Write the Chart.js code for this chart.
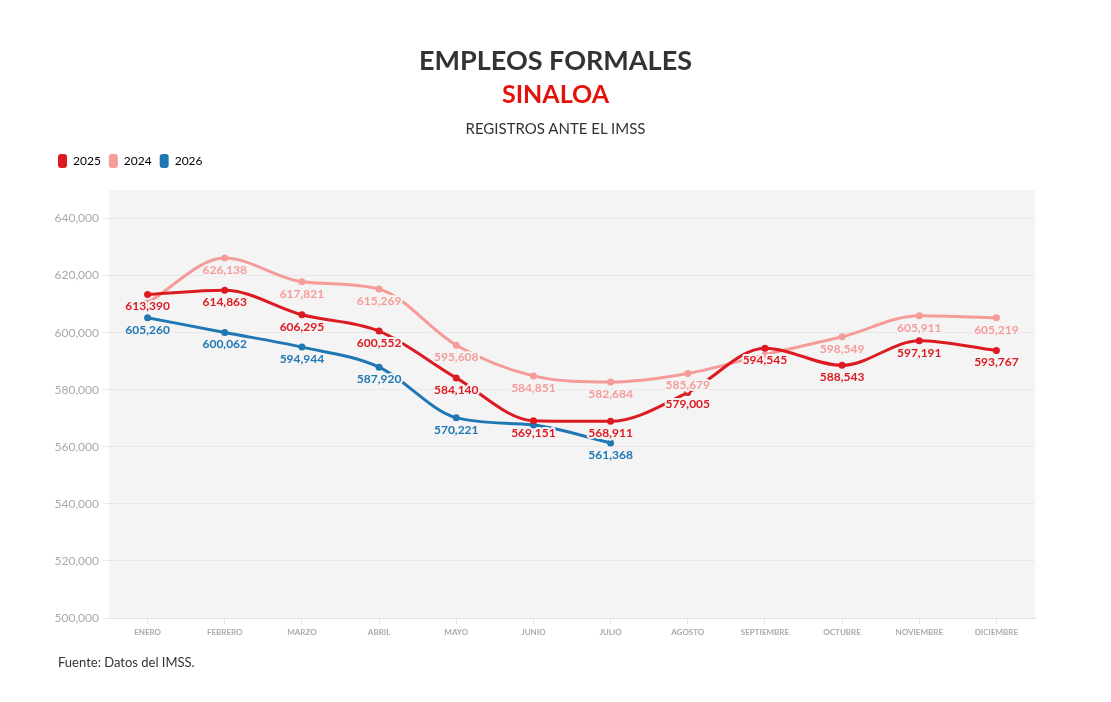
<!DOCTYPE html>
<html>
<head>
<meta charset="utf-8">
<script src="https://cdn.jsdelivr.net/npm/chart.js@4.4.1/dist/chart.umd.min.js"></script>
<style>
  html, body { margin: 0; padding: 0; background: #fff; }
  body { width: 1111px; height: 702px; position: relative; overflow: hidden; font-family: Lato, 'Noto Sans', sans-serif; color: #333; }
  #chart { position: absolute; left: 0; top: 0; }
  .hd { position: absolute; left: 0; width: 1111px; text-align: center; margin: 0; }
  #t1 { top: 42px; line-height: 36px; font-size: 27px; font-weight: 700; color: #333; }
  #t2 { top: 75px; line-height: 36px; font-size: 25px; font-weight: 700; color: #e3120b; }
  #t3 { top: 118px; line-height: 20px; font-size: 15px; font-weight: 400; color: #333; }
  #foot { position: absolute; left: 58px; top: 653px; line-height: 18px; font-size: 13px; color: #333; margin: 0; }
</style>
</head>
<body>
<canvas id="chart" width="1111" height="702"></canvas>
<h1 class="hd" id="t1">EMPLEOS FORMALES</h1>
<h2 class="hd" id="t2">SINALOA</h2>
<p class="hd" id="t3">REGISTROS ANTE EL IMSS</p>
<p id="foot">Fuente: Datos del IMSS.</p>
<script>
const months = ['ENERO', 'FEBRERO', 'MARZO', 'ABRIL', 'MAYO', 'JUNIO', 'JULIO', 'AGOSTO', 'SEPTIEMBRE', 'OCTUBRE', 'NOVIEMBRE', 'DICIEMBRE']
const values2025 = [613390, 614863, 606295, 600552, 584140, 569151, 568911, 579005, 594545, 588543, 597191, 593767]
const values2024 = [610500, 626138, 617821, 615269, 595608, 584851, 582684, 585679, 592300, 598549, 605911, 605219]
const values2026 = [605260, 600062, 594944, 587920, 570221, 567600, 561368, null, null, null, null, null]
const yTicks = [500000, 520000, 540000, 560000, 580000, 600000, 620000, 640000]

const RED = '#dc1a22'
const PINK = '#f59c9a'
const BLUE = '#1f77b4'
const PLOT_BG = '#f4f4f4'

function series (label, data, color) {
  return {
    label: label,
    data: data,
    borderColor: color,
    backgroundColor: color,
    pointBackgroundColor: color,
    pointBorderWidth: 0,
    pointRadius: 3.5,
    borderWidth: 3,
    cubicInterpolationMode: 'monotone',
    spanGaps: false,
    labelColor: color
  }
}

// gray plot background
const plotBackground = {
  id: 'plotBackground',
  beforeDraw (chart) {
    const { ctx, chartArea } = chart
    ctx.save()
    ctx.fillStyle = PLOT_BG
    ctx.fillRect(chartArea.left, chartArea.top, chartArea.right - chartArea.left, chartArea.bottom - chartArea.top)
    ctx.restore()
  }
}

// extra room between legend and plot
const legendGap = {
  id: 'legendGap',
  beforeInit (chart) {
    const fit = chart.legend.fit
    chart.legend.fit = function () {
      fit.bind(chart.legend)()
      this.height += 12
    }
  }
}

// value labels under each point, skipping ones that collide
const pointLabels = {
  id: 'pointLabels',
  afterDatasetsDraw (chart) {
    const ctx = chart.ctx
    const placed = []
    ctx.save()
    ctx.font = 'bold 12px Lato, sans-serif'
    ctx.textAlign = 'center'
    ctx.textBaseline = 'middle'
    ctx.lineJoin = 'round'
    chart.data.datasets.forEach((ds, i) => {
      const meta = chart.getDatasetMeta(i)
      meta.data.forEach((pt, j) => {
        const v = ds.data[j]
        if (v == null) return
        const text = v.toLocaleString('en-US')
        const w = ctx.measureText(text).width
        const y = pt.y + 12
        const box = { x1: pt.x - w / 2, x2: pt.x + w / 2, y1: y - 7, y2: y + 7 }
        const hit = placed.some(b => b.x1 < box.x2 && box.x1 < b.x2 && b.y1 < box.y2 && box.y1 < b.y2)
        if (hit) return
        placed.push(box)
        ctx.strokeStyle = PLOT_BG
        ctx.lineWidth = 4
        ctx.strokeText(text, pt.x, y)
        ctx.fillStyle = ds.labelColor
        ctx.fillText(text, pt.x, y)
      })
    })
    ctx.restore()
  }
}

const ctx = document.getElementById('chart').getContext('2d')
const myChart = new Chart(ctx, {
  type: 'line',
  data: {
    labels: months,
    datasets: [
      series('2025', values2025, RED),
      series('2024', values2024, PINK),
      series('2026', values2026, BLUE)
    ]
  },
  options: {
    responsive: false,
    animation: false,
    layout: {
      padding: { top: 146, left: 50, right: 76, bottom: 54 }
    },
    scales: {
      x: {
        offset: true,
        grid: { drawOnChartArea: false, drawTicks: true, tickLength: 6, color: '#e2e2e2' },
        border: { display: true, color: '#e2e2e2' },
        ticks: {
          color: '#aaaaaa',
          font: { family: 'Lato, sans-serif', size: 8, weight: 'bold' },
          padding: 4,
          maxRotation: 0,
          autoSkip: false
        },
        afterFit (scale) { scale.height = 30 }
      },
      y: {
        min: 500000,
        max: 650000,
        afterBuildTicks (scale) {
          scale.ticks = yTicks.map(v => ({ value: v }))
        },
        grid: { color: '#e8e8e8', tickLength: 6, drawTicks: true },
        border: { display: false },
        ticks: {
          color: '#aaaaaa',
          font: { family: 'Lato, sans-serif', size: 12 },
          padding: 4,
          callback: v => v.toLocaleString('en-US')
        },
        afterFit (scale) { scale.width = 59 }
      }
    },
    plugins: {
      legend: {
        display: true,
        position: 'top',
        align: 'start',
        labels: {
          boxWidth: 9,
          boxHeight: 14,
          padding: 8,
          color: '#333',
          font: { family: 'Lato, sans-serif', size: 12 },
          useBorderRadius: true,
          borderRadius: 3,
          generateLabels (chart) {
            return chart.data.datasets.map((ds, i) => ({
              text: ds.label,
              fillStyle: ds.borderColor,
              strokeStyle: ds.borderColor,
              lineWidth: 0,
              borderRadius: 3,
              hidden: !chart.isDatasetVisible(i),
              datasetIndex: i
            }))
          }
        }
      },
      tooltip: { enabled: false }
    }
  },
  plugins: [plotBackground, legendGap, pointLabels]
})
</script>
</body>
</html>
